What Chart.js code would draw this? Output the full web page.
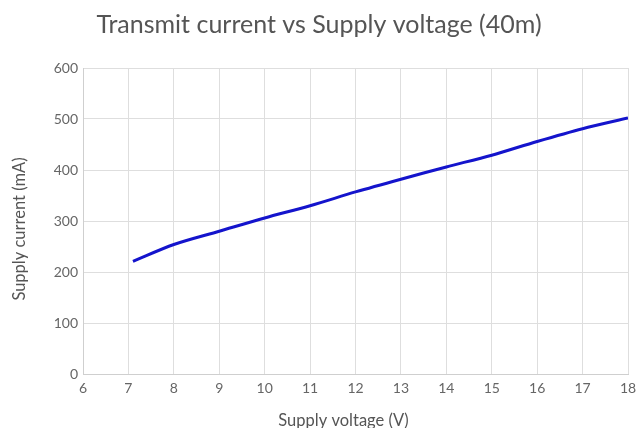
<!DOCTYPE html>
<html>
<head>
<meta charset="utf-8">
<script src="https://cdn.jsdelivr.net/npm/chart.js@4/dist/chart.umd.min.js"></script>
<style>
  html, body { margin: 0; padding: 0; background: #fff; overflow: hidden; width: 638px; height: 428px; }
</style>
</head>
<body>
<canvas id="c" width="638" height="428"></canvas>
<script>
// Measured supply voltage (V) and transmit current (mA) on 40m
const voltages = [7.1, 8, 9, 10, 11, 12, 13, 14, 15, 16, 17, 18];
const currents = [221, 254, 280, 306, 330, 357, 382, 406, 429, 456, 481, 502];
const xTicks = [6, 7, 8, 9, 10, 11, 12, 13, 14, 15, 16, 17, 18];
const yTicks = [0, 100, 200, 300, 400, 500, 600];
const chartTitle = 'Transmit current vs Supply voltage (40m)';
const xTitle = 'Supply voltage (V)';
const yTitle = 'Supply current (mA)';

const points = voltages.map((v, i) => ({ x: v, y: currents[i] }));
const FONT = 'Lato, "Open Sans", sans-serif';

// Axis titles, placed relative to the plot area
const axisTitles = {
  id: 'axisTitles',
  afterDraw(chart) {
    const { ctx, chartArea: a } = chart;
    ctx.save();
    ctx.fillStyle = '#555';
    ctx.font = '16.5px ' + FONT;
    ctx.textAlign = 'center';
    ctx.textBaseline = 'middle';
    ctx.fillText(xTitle, (a.left + a.right) / 2 - 12, a.bottom + 47);
    ctx.translate(20, (a.top + a.bottom) / 2 + 8);
    ctx.rotate(-Math.PI / 2);
    ctx.fillText(yTitle, 0, 0);
    ctx.restore();
  }
};

new Chart(document.getElementById('c'), {
  type: 'line',
  data: {
    datasets: [{
      data: points,
      borderColor: '#1414cc',
      borderWidth: 3,
      pointRadius: 0,
      tension: 0.3,
      fill: false
    }]
  },
  options: {
    responsive: false,
    animation: false,
    layout: { padding: 0 },
    plugins: {
      legend: { display: false },
      tooltip: { enabled: false },
      title: {
        display: true,
        text: chartTitle,
        color: '#555',
        font: { family: FONT, size: 25, weight: 'normal' },
        padding: { top: 10, bottom: 28 }
      }
    },
    scales: {
      x: {
        type: 'linear',
        min: 6, max: 18,
        afterBuildTicks: s => { s.ticks = xTicks.map(v => ({ value: v })); },
        afterFit: s => { s.height = 54; s.paddingLeft = 0; s.paddingRight = 10; },
        grid: { color: '#dedede', drawTicks: false, lineWidth: 1 },
        border: { color: '#cfcfcf' },
        ticks: { color: '#666', font: { family: FONT, size: 14 }, padding: 6, maxRotation: 0 }
      },
      y: {
        min: 0, max: 600,
        afterBuildTicks: s => { s.ticks = yTicks.map(v => ({ value: v })); },
        afterFit: s => { s.width = 83; },
        grid: { color: '#dedede', drawTicks: false, lineWidth: 1 },
        border: { color: '#cfcfcf' },
        ticks: { color: '#666', font: { family: FONT, size: 14 }, padding: 5 }
      }
    }
  },
  plugins: [axisTitles]
});
</script>
</body>
</html>
